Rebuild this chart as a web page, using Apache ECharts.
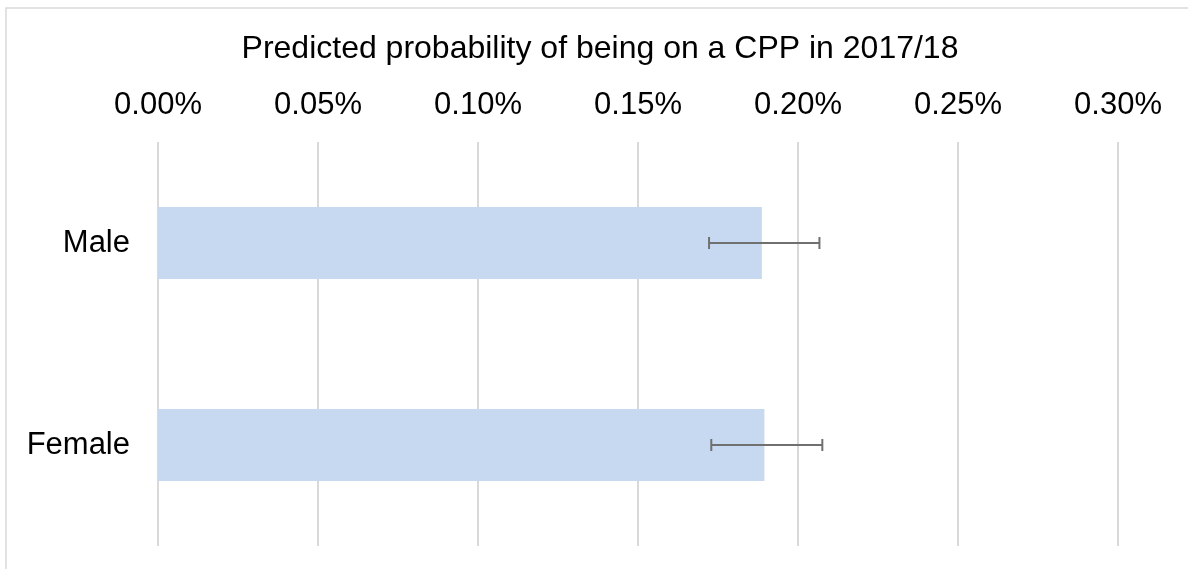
<!DOCTYPE html>
<html>
<head>
<meta charset="utf-8">
<script src="https://cdn.jsdelivr.net/npm/echarts@6/dist/echarts.min.js"></script>
<style>
    html, body { margin: 0; padding: 0; background: #fff; }
    #chart { width: 1188px; height: 569px; }
</style>
</head>
<body>
<div id="chart"></div>
<script>
    // values in percent
    const categories = ['Male', 'Female']
    const probability = [0.1887, 0.1895]
    const errLow = [0.1722, 0.1729]
    const errHigh = [0.2067, 0.2076]

    const font = '"Liberation Sans", Arial, sans-serif'
    const myChart = echarts.init(document.getElementById('chart'))

    const errData = categories.map((c, i) => [i, errLow[i], errHigh[i]])

    const option = {
        animation: false,
        backgroundColor: '#fff',
        title: {
            text: 'Predicted probability of being on a CPP in 2017/18',
            left: 600,
            top: 33,
            textAlign: 'center',
            padding: 0,
            textStyle: { fontSize: 32, fontWeight: 'normal', color: '#000', fontFamily: font }
        },
        graphic: [{
            type: 'rect',
            shape: { x: 6, y: 8, width: 1200, height: 600 },
            style: { fill: 'none', stroke: '#d9d9d9', lineWidth: 1.5 },
            silent: true
        }],
        grid: {
            top: 142,
            bottom: 23,
            left: 158,
            right: 70
        },
        xAxis: {
            type: 'value',
            position: 'top',
            min: 0,
            max: 0.30,
            interval: 0.05,
            axisLine: { show: false },
            axisTick: { show: false },
            axisLabel: {
                fontSize: 31,
                color: '#000',
                fontFamily: font,
                margin: 21,
                formatter: v => v.toFixed(2) + '%'
            },
            splitLine: { lineStyle: { color: '#d9d9d9', width: 2 } }
        },
        yAxis: {
            type: 'category',
            inverse: true,
            data: categories,
            axisLine: { show: false },
            axisTick: { show: false },
            axisLabel: { fontSize: 31, color: '#000', fontFamily: font, margin: 28 }
        },
        series: [
            {
                type: 'bar',
                data: probability,
                barWidth: 72,
                itemStyle: { color: '#c6d9f0' }
            },
            {
                type: 'custom',
                data: errData,
                encode: { x: [1, 2], y: 0 },
                z: 10,
                renderItem: function (params, api) {
                    const idx = api.value(0)
                    const lo = api.coord([api.value(1), idx])
                    const hi = api.coord([api.value(2), idx])
                    const cap = 6
                    const style = { stroke: '#707070', lineWidth: 2 }
                    return {
                        type: 'group',
                        children: [
                            { type: 'line', shape: { x1: lo[0], y1: lo[1], x2: hi[0], y2: hi[1] }, style: style },
                            { type: 'line', shape: { x1: lo[0], y1: lo[1] - cap, x2: lo[0], y2: lo[1] + cap }, style: style },
                            { type: 'line', shape: { x1: hi[0], y1: hi[1] - cap, x2: hi[0], y2: hi[1] + cap }, style: style }
                        ]
                    }
                }
            }
        ]
    }
    myChart.setOption(option)
</script>
</body>
</html>
